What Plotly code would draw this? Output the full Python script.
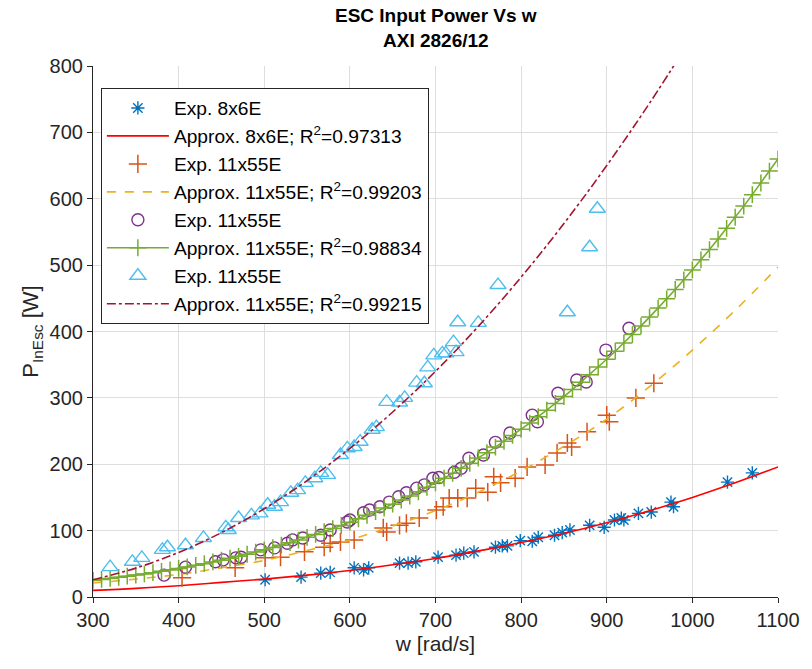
import plotly.graph_objects as go

# ---- measured data: w [rad/s] vs ESC input power [W] ----
w_8x6 = [501, 543, 566, 577, 605, 616, 622, 658, 668, 677, 703, 724, 733, 745, 770, 778, 784,
         799, 813, 820, 839, 848, 857, 880, 897, 909, 917, 920, 937, 952, 975, 978, 1041, 1070]
p_8x6 = [26, 30, 36, 37, 44, 41, 44, 51, 51, 53, 60, 63, 66, 68, 75, 77, 77,
         85, 84, 90, 93, 97, 101, 108, 105, 116, 119, 116, 126, 128, 143, 136, 173, 187]

w_11a = [404, 466, 501, 519, 547, 570, 577, 589, 605, 639, 643, 658, 666, 681, 701, 709, 716,
         726, 737, 747, 761, 768, 776, 793, 807, 828, 842, 854, 859, 877, 900, 903, 934, 955]
p_11a = [29, 44, 59, 60, 68, 75, 81, 83, 86, 104, 98, 108, 111, 119, 131, 136, 149,
         149, 149, 164, 158, 181, 172, 179, 196, 199, 217, 232, 226, 249, 274, 264, 300, 322]

w_11b = [383, 408, 443, 452, 467, 473, 496, 512, 527, 533, 545, 566, 577, 597, 600, 616, 623,
         635, 646, 657, 666, 678, 687, 697, 704, 722, 730, 739, 756, 770, 787, 813, 819, 843,
         865, 876, 899, 926]
p_11b = [33, 45, 53, 56, 59, 60, 71, 74, 81, 86, 89, 93, 101, 113, 116, 127, 131,
         136, 143, 151, 157, 164, 169, 179, 180, 188, 194, 209, 214, 233, 247, 274, 264, 307,
         327, 324, 372, 405]

w_11c = [320, 346, 357, 381, 387, 408, 429, 455, 458, 470, 485, 495, 504, 512, 519, 531, 539,
         548, 559, 566, 574, 589, 597, 605, 612, 626, 631, 643, 658, 664, 678, 687, 691, 698,
         708, 712, 721, 724, 726, 750, 773, 854, 880, 889]
p_11c = [45, 53, 59, 71, 75, 78, 89, 105, 101, 119, 123, 126, 139, 136, 143, 157, 161,
         172, 179, 187, 184, 214, 224, 226, 234, 252, 256, 294, 293, 300, 323, 322, 346, 364,
         367, 367, 384, 369, 414, 413, 470, 429, 527, 585]

# ---- fitted approximations, sampled on a 50 rad/s grid ----
w_fit = [300, 350, 400, 450, 500, 550, 600, 650, 700, 750, 800, 850, 900, 950, 1000, 1050, 1100]
fit_8x6 = [10, 13, 17, 22, 27, 33, 40, 48.5, 58, 69.5, 82, 96, 112, 130, 150, 172, 196]
fit_11a = [21, 27, 34, 44, 55, 70, 86, 107, 130, 158, 190, 227, 268, 317, 372, 432, 497]
fit_11c = [26, 43.5, 67.2, 97, 133, 175.3, 223.8, 278.7, 340, 407.7, 481.9, 562.7, 650, 744, 844.5]

# green approximation, sampled every 10 rad/s (markers drawn at each sample)
w_fit_b = [300 + 10 * i for i in range(81)]
fit_11b = [25.0, 26.5, 28.0, 29.6, 31.3, 33.0, 34.8, 36.7, 38.7, 40.8,
           43.0, 45.3, 47.7, 50.2, 52.8, 55.5, 58.4, 61.3, 64.4, 67.7,
           71.0, 74.5, 78.1, 81.9, 85.8, 89.9, 94.2, 98.6, 103.1, 107.8,
           112.7, 117.8, 123.1, 128.5, 134.1, 139.9, 146.0, 152.2, 158.6, 165.2,
           172.0, 179.0, 186.3, 193.8, 201.5, 209.4, 217.5, 225.9, 234.6, 243.5,
           252.6, 262.0, 271.6, 281.5, 291.6, 302.0, 312.7, 323.7, 334.9, 346.4,
           358.2, 370.3, 382.7, 395.4, 408.4, 421.7, 435.3, 449.2, 463.4, 477.9,
           492.8, 508.0, 523.5, 539.3, 555.5, 572.1, 588.9, 606.2, 623.7, 641.7,
           660.0]

x_ticks = [300, 400, 500, 600, 700, 800, 900, 1000, 1100]
y_ticks = [0, 100, 200, 300, 400, 500, 600, 700, 800]

title_lines = ["ESC Input Power Vs w", "AXI 2826/12"]

FONT = "Liberation Sans"
TXT = "#262626"

fig = go.Figure()

fig.add_trace(go.Scatter(
    x=w_8x6, y=p_8x6, mode="markers", name="Exp. 8x6E", legendgroup="g1",
    marker=dict(symbol="asterisk-open", size=11, color="#0072BD",
                line=dict(color="#0072BD", width=1.4))))
fig.add_trace(go.Scatter(
    x=w_fit, y=fit_8x6, mode="lines", name="Approx. 8x6E; R<sup>2</sup>=0.97313", legendgroup="g2",
    line=dict(color="#FF0000", width=1.6, shape="spline")))

fig.add_trace(go.Scatter(
    x=w_11a, y=p_11a, mode="markers", name="Exp. 11x55E", legendgroup="g3",
    marker=dict(symbol="cross-thin-open", size=13, color="#D95319",
                line=dict(color="#D95319", width=1.5))))
fig.add_trace(go.Scatter(
    x=w_fit, y=fit_11a, mode="lines", name="Approx. 11x55E; R<sup>2</sup>=0.99203", legendgroup="g4",
    line=dict(color="#EDB120", width=1.6, dash="dash", shape="spline")))

fig.add_trace(go.Scatter(
    x=w_11b, y=p_11b, mode="markers", name="Exp. 11x55E", legendgroup="g5",
    marker=dict(symbol="circle-open", size=12, color="#7E2F8E",
                line=dict(color="#7E2F8E", width=1.4))))
fig.add_trace(go.Scatter(
    x=w_fit_b, y=fit_11b, mode="lines+markers", name="Approx. 11x55E; R<sup>2</sup>=0.98834", legendgroup="g6",
    line=dict(color="#77AC30", width=1.6),
    marker=dict(symbol="cross-thin-open", size=12, color="#77AC30",
                line=dict(color="#77AC30", width=1.5))))

fig.add_trace(go.Scatter(
    x=w_11c, y=p_11c, mode="markers", name="Exp. 11x55E", legendgroup="g7",
    marker=dict(symbol="triangle-up-open", size=14, color="#4DBEEE",
                line=dict(color="#4DBEEE", width=1.4))))
fig.add_trace(go.Scatter(
    x=w_fit[:len(fit_11c)], y=fit_11c, mode="lines", name="Approx. 11x55E; R<sup>2</sup>=0.99215", legendgroup="g8",
    line=dict(color="#A2142F", width=1.6, dash="dashdot", shape="spline")))

# two-line bold title above the axes
title_ann = [
    dict(text="<b>%s</b>" % title_lines[0], x=0.5, y=15, xref="paper", yref="paper"),
    dict(text="<b>%s</b>" % title_lines[1], x=0.5, y=41, xref="paper", yref="paper"),
]
annotations = []
for a in title_ann:
    annotations.append(dict(
        text=a["text"], x=a["x"], xref="paper", xanchor="center",
        y=(597 - a["y"]) / 531, yref="paper", yanchor="middle",
        showarrow=False, font=dict(family=FONT, size=19, color="#000000")))

fig.update_layout(
    width=812, height=669,
    margin=dict(l=93, r=26, t=66, b=72),
    paper_bgcolor="white", plot_bgcolor="white",
    font=dict(family=FONT, color=TXT, size=18),
    annotations=annotations,
    showlegend=True,
    legend=dict(x=0.0115, y=0.9586, xanchor="left", yanchor="top",
                bgcolor="white", bordercolor=TXT, borderwidth=1,
                font=dict(family=FONT, size=19.2, color="#000000"),
                itemwidth=62, tracegroupgap=0),
)

fig.update_xaxes(
    range=[300, 1100], tickvals=x_ticks, ticktext=[str(v) for v in x_ticks],
    showline=True, linecolor=TXT, linewidth=1.2, ticks="outside", ticklen=5,
    tickcolor=TXT, showgrid=True, gridcolor="#dedede", gridwidth=1, zeroline=False,
    tickfont=dict(size=20, color=TXT),
    title=dict(text="w [rad/s]", font=dict(size=21, color=TXT), standoff=6))
fig.update_yaxes(
    range=[0, 800], tickvals=y_ticks, ticktext=[str(v) for v in y_ticks],
    showline=True, linecolor=TXT, linewidth=1.2, ticks="outside", ticklen=5,
    tickcolor=TXT, showgrid=True, gridcolor="#dedede", gridwidth=1, zeroline=False,
    tickfont=dict(size=20, color=TXT),
    title=dict(text="P<sub>InEsc</sub> [W]", font=dict(size=22, color=TXT), standoff=4))

fig.write_html("out.html")
